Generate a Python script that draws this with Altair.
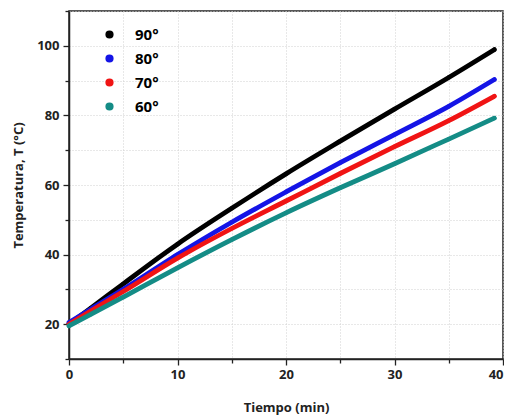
import altair as alt
import pandas as pd

tiempo = [0, 2, 5, 10, 15, 20, 25, 30, 35, 39.2]
t90 = [20, 24.6, 31.6, 43, 53.3, 63.2, 72.6, 81.8, 90.9, 98.9]
t80 = [20.5, 24.3, 30, 40, 49.3, 58, 66.4, 74.5, 82.6, 90.3]
t70 = [20, 23.8, 29.4, 39, 47.5, 55.4, 63.3, 71, 78.5, 85.5]
t60 = [19.5, 22.8, 27.8, 36.2, 44.3, 52, 59.2, 66.1, 73.2, 79.2]
series = ["90°", "80°", "70°", "60°"]
colors = ["#000000", "#1414e6", "#f01414", "#148c86"]

rows = []
for name, vals in zip(series, [t90, t80, t70, t60]):
    for t, v in zip(tiempo, vals):
        rows.append({"Tiempo": t, "Temp": v, "Serie": name})
df = pd.DataFrame(rows)

FONT = "Open Sans"

xaxis = alt.Axis(
    values=list(range(0, 41, 5)),
    labelExpr="datum.value % 10 === 0 ? datum.label : ''",
    tickSize={"condition": {"test": "datum.value % 10 === 0", "value": 6}, "value": 4},
    labelFlush=False,
    labelAlign={"condition": {"test": "datum.value === 40", "value": "right"}, "value": "center"},
    title="Tiempo (min)",
    titlePadding=20,
    labelPadding=3,
)
yaxis = alt.Axis(
    values=list(range(10, 111, 10)),
    labelExpr="datum.value % 20 === 0 ? datum.label : ''",
    tickSize={"condition": {"test": "datum.value % 20 === 0", "value": 6}, "value": 4},
    labelFlush=False,
    title="Temperatura, T (°C)",
    titlePadding=11,
    labelPadding=4,
)

xs = alt.X("Tiempo:Q", scale=alt.Scale(domain=[0, 40], nice=False), axis=xaxis)
ys = alt.Y("Temp:Q", scale=alt.Scale(domain=[10, 110], nice=False), axis=yaxis)
cscale = alt.Scale(domain=series, range=colors)
legend = alt.Legend(
    title=None, orient="none", legendX=33, legendY=16,
    symbolType="circle", symbolSize=45, labelFontSize=15,
    labelFont=FONT, labelFontWeight="bold", rowPadding=8,
    labelOffset=18, symbolOpacity=1,
)

pts = alt.Chart(df).mark_circle(size=18, opacity=1).encode(
    x=xs, y=ys,
    color=alt.Color("Serie:N", scale=cscale, sort=series, legend=legend),
)
lines = alt.Chart(df).mark_line(strokeWidth=4.8, strokeCap="round", interpolate="monotone").encode(
    x=xs, y=ys,
    color=alt.Color("Serie:N", scale=cscale, sort=series, legend=legend),
    order=alt.Order("Tiempo:Q"),
)

chart = (
    alt.layer(pts, lines)
    .properties(
        width=434, height=348,
        padding={"left": 61, "top": 3, "right": 1, "bottom": 64},
        autosize=alt.AutoSizeParams(type="none"),
    )
    .configure_view(stroke="#222222", strokeWidth=1.5)
    .configure_axis(
        labelFont=FONT, titleFont=FONT, labelFontSize=13, titleFontSize=13,
        labelFontWeight="bold", titleFontWeight="bold",
        labelColor="#222", titleColor="#222",
        domainColor="#222", domainWidth=1.5, tickColor="#222", tickWidth=1.3,
        gridColor="#d0d0d0", gridDash=[1, 2], gridWidth=1,
    )
)

chart.save("out.html", embed_options={"renderer": "svg", "actions": False})
